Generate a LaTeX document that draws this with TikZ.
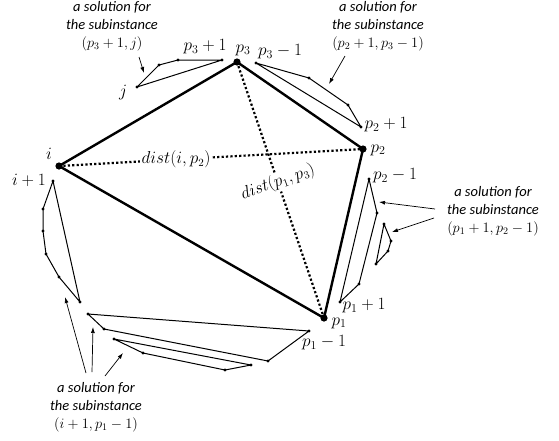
\documentclass[tikz,border=0pt]{standalone}
\usepackage{fontspec}
\setmainfont{Carlito}
\usetikzlibrary{arrows.meta}

\begin{document}
\begin{tikzpicture}[x=1pt,y=-1pt,tour/.style={line width=2.4pt,line join=round},sub/.style={line width=1pt,line join=round},chord/.style={line width=2.2pt,dash pattern=on 2.2pt off 2.2pt},lbl/.style={font=\fontsize{16.5}{18}\selectfont,inner sep=0pt},note/.style={align=center,inner sep=0pt,font=\fontsize{14.5}{18}\selectfont\itshape},arrow/.style={-{Latex[length=6pt,width=4pt]},line width=0.7pt}]
\useasboundingbox (0,0) rectangle (559,440);
% the tour
\coordinate (i) at (59,166);
\coordinate (p3) at (237,62);
\coordinate (p2) at (363,149);
\coordinate (p1) at (324,318);
% sub-solutions
\coordinate (j) at (137,87);
\coordinate (a1) at (159,65);
\coordinate (a2) at (178,60);
\coordinate (p3p) at (222,60);
\coordinate (p3m) at (256,63);
\coordinate (b1) at (309,78);
\coordinate (b2) at (348,105);
\coordinate (p2p) at (361,127);
\coordinate (p2m) at (369,179);
\coordinate (c1) at (377,213);
\coordinate (c2) at (359,284);
\coordinate (p1p) at (340,302);
\coordinate (e1) at (384,224);
\coordinate (e2) at (391,241);
\coordinate (e3) at (388,251);
\coordinate (e4) at (376,264);
\coordinate (ip) at (53,181);
\coordinate (d1) at (43,209);
\coordinate (d2) at (43,231);
\coordinate (d3) at (46,254);
\coordinate (d4) at (59,277);
\coordinate (d5) at (80,302);
\coordinate (f1) at (88,314);
\coordinate (f2) at (104,329);
\coordinate (f3) at (268,361);
\coordinate (p1m) at (309,331);
\coordinate (g1) at (114,339);
\coordinate (g2) at (143,353);
\coordinate (g3) at (225,370);
\coordinate (g4) at (251,365);

\draw[chord] (i) -- node[pos=0.385,fill=white,inner sep=2pt,font=\fontsize{16}{18}\selectfont] (dA) {$dist(i,p_2)$} (p2);
\draw[chord] (p3) -- node[pos=0.47,fill=white,inner sep=1pt,rotate=20,font=\fontsize{16}{18}\selectfont] (dB) {$dist(p_1,p_3)$} (p1);
\draw[tour] (i) -- (p3) -- (p2) -- (p1) -- cycle;

\draw[sub] (j) -- (a1) -- (a2) -- (p3p) -- cycle;
\draw[sub] (p3m) -- (b1) -- (b2) -- (p2p) -- cycle;
\draw[sub] (p2m) -- (c1) -- (c2) -- (p1p) -- cycle;
\draw[sub] (e1) -- (e2) -- (e3) -- (e4) -- cycle;
\draw[sub] (ip) -- (d1) -- (d2) -- (d3) -- (d4) -- (d5) -- cycle;
\draw[sub] (f1) -- (f2) -- (f3) -- (p1m) -- cycle;
\draw[sub] (g1) -- (g2) -- (g3) -- (g4) -- cycle;

\foreach \v in {i,p3,p2,p1}
  \fill (\v) circle (3.6pt);
\foreach \v in {j,a1,a2,p3p,p3m,b1,b2,p2p,p2m,c1,c2,p1p,e1,e2,e3,e4,ip,d1,d2,d3,d4,d5,f1,f2,f3,p1m,g1,g2,g3,g4}
  \fill (\v) circle (1.6pt);

% vertex labels
\node[lbl] (li) at (49,154) {$i$};
\node[lbl] (lip) at (29,180) {$i+1$};
\node[lbl] (lj) at (123,93) {$j$};
\node[lbl] (lp3p) at (205,47) {$p_3+1$};
\node[lbl] (lp3) at (243,50) {$p_3$};
\node[lbl] (lp3m) at (280,52) {$p_3-1$};
\node[lbl] (lp2p) at (386,125) {$p_2+1$};
\node[lbl] (lp2) at (378,150) {$p_2$};
\node[lbl] (lp2m) at (395,176) {$p_2-1$};
\node[lbl] (lp1p) at (364,306) {$p_1+1$};
\node[lbl] (lp1) at (339,323) {$p_1$};
\node[lbl] (lp1m) at (324,343) {$p_1-1$};

% notes
\node[note] (nA) at (112,26) {a solution for\\the subinstance\\$(p_3+1,j)$};
\node[note] (nB) at (378,26) {a solution for\\the subinstance\\$(p_2+1,p_3-1)$};
\node[note] (nC) at (493,211) {a solution for\\the subinstance\\$(p_1+1,p_2-1)$};
\node[note] (nD) at (96,407) {a solution for\\the subinstance\\$(i+1,p_1-1)$};

\coordinate (tA) at (139,57);
\coordinate (hA) at (144,73);
\coordinate (tB) at (345,56);
\coordinate (hB) at (329,84);
\coordinate (tC1) at (435,209);
\coordinate (hC1) at (379,202);
\coordinate (tC2) at (434,218);
\coordinate (hC2) at (392,232);
\coordinate (tD1) at (86,373);
\coordinate (hD1) at (65,297);
\coordinate (tD2) at (92,372);
\coordinate (hD2) at (93,327);
\coordinate (tD3) at (105,376);
\coordinate (hD3) at (123,353);
\draw[arrow] (tA) -- (hA);
\draw[arrow] (tB) -- (hB);
\draw[arrow] (tC1) -- (hC1);
\draw[arrow] (tC2) -- (hC2);
\draw[arrow] (tD1) -- (hD1);
\draw[arrow] (tD2) -- (hD2);
\draw[arrow] (tD3) -- (hD3);
\end{tikzpicture}
\end{document}
